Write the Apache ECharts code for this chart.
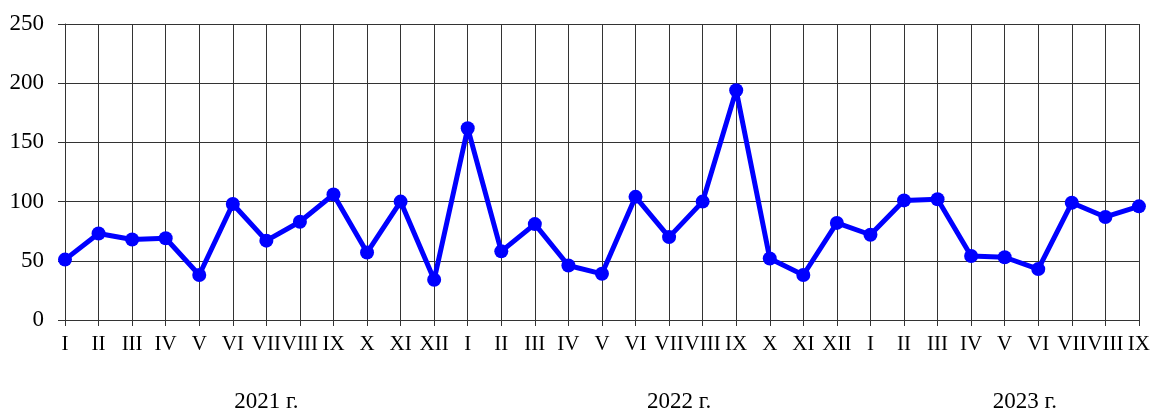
<!DOCTYPE html>
<html>
<head>
<meta charset="utf-8">
<script src="https://cdn.jsdelivr.net/npm/echarts@6/dist/echarts.min.js"></script>
<style>
  html, body { margin: 0; padding: 0; background: #fff; }
  #chart { width: 1153px; height: 412px; }
</style>
</head>
<body>
<div id="chart"></div>
<script>
// месяцы по оси X
var months = [
    'I', 'II', 'III', 'IV', 'V', 'VI', 'VII', 'VIII', 'IX', 'X', 'XI', 'XII',
    'I', 'II', 'III', 'IV', 'V', 'VI', 'VII', 'VIII', 'IX', 'X', 'XI', 'XII',
    'I', 'II', 'III', 'IV', 'V', 'VI', 'VII', 'VIII', 'IX'
];
var values = [
    51, 73, 68, 69, 38, 98, 67, 83, 106, 57, 100, 34,
    162, 58, 81, 46, 39, 104, 70, 100, 194, 52, 38, 82,
    72, 101, 102, 54, 53, 43, 99, 87, 96
];
var years = ['2021 г.', '2022 г.', '2023 г.'];
// позиция подписи года в единицах категорий
var yearAt = [6, 18.3, 28.6];

var font = '"Liberation Serif", "Times New Roman", serif';
var myChart = echarts.init(document.getElementById('chart'));

var option = {
    animation: false,
    grid: {
        left: 65,
        right: 12,
        top: 24,
        bottom: 92
    },
    xAxis: {
        type: 'category',
        data: months,
        boundaryGap: false,
        axisLine: { lineStyle: { color: '#333', width: 1 } },
        axisTick: { show: true, length: 6, lineStyle: { color: '#333' } },
        axisLabel: {
            interval: 0,
            color: '#000',
            fontFamily: font,
            fontSize: 21,
            margin: 14
        },
        splitLine: { show: true, lineStyle: { color: '#333', width: 1 } }
    },
    yAxis: {
        type: 'value',
        min: 0,
        max: 250,
        interval: 50,
        axisLine: { show: true, lineStyle: { color: '#333', width: 1 } },
        axisTick: { show: true, length: 7, lineStyle: { color: '#333' } },
        axisLabel: {
            color: '#000',
            fontFamily: font,
            fontSize: 23,
            margin: 21
        },
        splitLine: { show: true, lineStyle: { color: '#333', width: 1 } }
    },
    series: [{
        type: 'line',
        data: values,
        symbol: 'circle',
        symbolSize: 14,
        lineStyle: { color: '#0000ff', width: 5 },
        itemStyle: { color: '#0000ff' }
    }]
};
myChart.setOption(option);

// подписи годов под осью
var x0 = myChart.convertToPixel({ xAxisIndex: 0 }, 0);
var x1 = myChart.convertToPixel({ xAxisIndex: 0 }, months.length - 1);
var step = (x1 - x0) / (months.length - 1);
var texts = [];
for (var i = 0; i < years.length; i++) {
    texts.push({
        type: 'text',
        x: x0 + yearAt[i] * step,
        y: 402,
        style: {
            text: years[i],
            fill: '#000',
            font: '23px ' + font,
            textAlign: 'center',
            textVerticalAlign: 'middle'
        }
    });
}
myChart.setOption({ graphic: texts });
</script>
</body>
</html>
